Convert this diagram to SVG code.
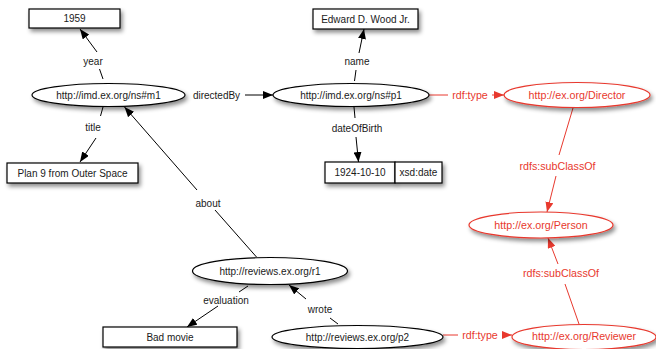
<svg xmlns="http://www.w3.org/2000/svg" width="656" height="349" viewBox="0 0 656 349">
<defs>
<filter id="sh" x="-20%" y="-40%" width="140%" height="190%">
<feDropShadow dx="2" dy="3" stdDeviation="2" flood-color="#000" flood-opacity="0.45"/>
</filter>
<marker id="ab" viewBox="0 0 10 8" refX="10" refY="4" markerWidth="10" markerHeight="8" markerUnits="userSpaceOnUse" orient="auto">
<path d="M0,0 L10,4 L0,8 Z" fill="#000"/>
</marker>
<marker id="ar" viewBox="0 0 10 8" refX="10" refY="4" markerWidth="10" markerHeight="8" markerUnits="userSpaceOnUse" orient="auto">
<path d="M0,0 L10,4 L0,8 Z" fill="#e8392e"/>
</marker>
</defs>
<style>
text{font-family:"Liberation Sans",Arial,Helvetica,sans-serif;font-size:10px;text-anchor:middle;dominant-baseline:central}
.n rect,.n ellipse{fill:#fff;stroke:#000;stroke-width:1.2;filter:url(#sh)}
.n text{fill:#1a1a1a}
.r ellipse{fill:#fff;stroke:#e8392e;stroke-width:1.2;filter:url(#sh)}
.r text{fill:#e8392e;font-size:10.7px}
.e line{stroke:#000;stroke-width:1}
.e text{fill:#1a1a1a}
.er line{stroke:#e8392e;stroke-width:1}
.er text{fill:#e8392e;font-size:10.7px}
.b{marker-end:url(#ab)}
.rb{marker-end:url(#ar)}
</style>

<g id="connectors">
<g class="e" id="e-year">
<line x1="103" y1="79" x2="99.5" y2="69"/>
<text x="93" y="61">year</text>
<line class="b" x1="97" y1="52" x2="80" y2="29"/>
</g>
<g class="e" id="e-title">
<line x1="103" y1="107" x2="100.5" y2="116"/>
<text x="93" y="127">title</text>
<line class="b" x1="96" y1="138" x2="80" y2="162"/>
</g>
<g class="e" id="e-directedBy">
<text x="216.5" y="95">directedBy</text>
<line class="b" x1="245" y1="95" x2="273" y2="95"/>
</g>
<g class="e" id="e-name">
<line x1="354.5" y1="81" x2="356" y2="70"/>
<text x="357" y="61">name</text>
<line class="b" x1="359" y1="53" x2="364" y2="29"/>
</g>
<g class="e" id="e-dob">
<line x1="354" y1="107" x2="355" y2="118"/>
<text x="357" y="128">dateOfBirth</text>
<line class="b" x1="356" y1="137" x2="358.5" y2="162"/>
</g>
<g class="er" id="e-type1">
<line x1="429" y1="95" x2="448" y2="95"/>
<text x="470" y="95">rdf:type</text>
<line class="rb" x1="492" y1="95" x2="504" y2="95"/>
</g>
<g class="er" id="e-sub1">
<line x1="573" y1="108" x2="559" y2="155"/>
<text x="557.5" y="166">rdfs:subClassOf</text>
<line class="rb" x1="556" y1="176" x2="547" y2="212"/>
</g>
<g class="er" id="e-sub2">
<line x1="579" y1="324" x2="565" y2="284"/>
<text x="561" y="273">rdfs:subClassOf</text>
<line class="rb" x1="558" y1="264" x2="548" y2="238"/>
</g>
<g class="er" id="e-type2">
<line x1="443" y1="335" x2="458" y2="335"/>
<text x="480" y="335">rdf:type</text>
<line class="rb" x1="502" y1="335" x2="512" y2="335"/>
</g>
<g class="e" id="e-about">
<line x1="256.5" y1="257" x2="215" y2="210"/>
<text x="208" y="203">about</text>
<line class="b" x1="197" y1="190" x2="124.5" y2="107"/>
</g>
<g class="e" id="e-eval">
<line x1="248" y1="286" x2="239" y2="292"/>
<text x="226" y="300">evaluation</text>
<line class="b" x1="218" y1="306" x2="187" y2="327"/>
</g>
<g class="e" id="e-wrote">
<line x1="338" y1="324" x2="330" y2="318"/>
<text x="320" y="309">wrote</text>
<line class="b" x1="306" y1="299" x2="289" y2="285"/>
</g>
</g>

<g id="n-1959" class="n"><rect x="29" y="9" width="91" height="19"/><text x="74.5" y="18.5">1959</text></g>
<g id="n-edward" class="n"><rect x="313" y="9" width="105" height="20"/><text x="365.5" y="19">Edward D. Wood Jr.</text></g>
<g id="n-m1" class="n"><ellipse cx="108.5" cy="95" rx="76.5" ry="11.5"/><text x="108.5" y="95">http://imd.ex.org/ns#m1</text></g>
<g id="n-p1" class="n"><ellipse cx="351" cy="95" rx="78" ry="11.5"/><text x="351" y="95">http://imd.ex.org/ns#p1</text></g>
<g id="n-plan9" class="n"><rect x="7" y="163" width="131" height="20"/><text x="72.5" y="173">Plan 9 from Outer Space</text></g>
<g id="n-date" class="n"><rect x="325" y="162" width="70" height="21"/><text x="360" y="172.5">1924-10-10</text><rect x="395" y="162" width="47" height="21"/><text x="418.5" y="172.5">xsd:date</text></g>
<g id="n-director" class="r"><ellipse cx="577" cy="95" rx="73" ry="12.5"/><text x="577" y="95">http://ex.org/Director</text></g>
<g id="n-person" class="r"><ellipse cx="541" cy="225" rx="72" ry="13"/><text x="541" y="225">http://ex.org/Person</text></g>
<g id="n-r1" class="n"><ellipse cx="270" cy="271" rx="77.5" ry="13.5"/><text x="270" y="271">http://reviews.ex.org/r1</text></g>
<g id="n-badmovie" class="n"><rect x="103" y="327" width="134" height="20"/><text x="170" y="337">Bad movie</text></g>
<g id="n-p2" class="n"><ellipse cx="357.5" cy="337" rx="85.5" ry="11.5"/><text x="357.5" y="337">http://reviews.ex.org/p2</text></g>
<g id="n-reviewer" class="r"><ellipse cx="584" cy="337" rx="72" ry="12.5"/><text x="584" y="336">http://ex.org/Reviewer</text></g>
</svg>
